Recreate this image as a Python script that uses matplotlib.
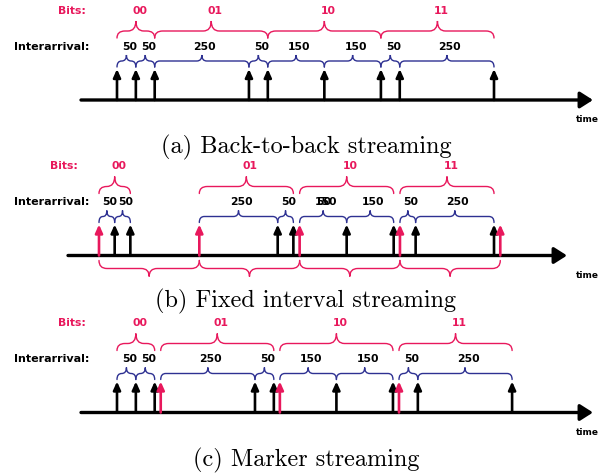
import matplotlib.pyplot as plt
from matplotlib.path import Path
from matplotlib.patches import PathPatch

RED = "#e8185c"
BLUE = "#2e3192"
W, H = 602, 477

symbols = ["00", "01", "10", "11"]
gap_labels = ["50", "50", "250", "50", "150", "150", "50", "250"]

# (a) back-to-back streaming, packet times (ms)
a_times = [0, 50, 100, 350, 400, 550, 700, 750, 1000]
# (b) fixed interval streaming, a marker every 320 ms
b_markers = [0, 320, 640, 960, 1280]
b_times = [50, 100, 570, 620, 790, 940, 1010, 1260]
# (c) marker streaming, marker packet after each symbol
c_times = [0, 50, 100, 366, 416, 582, 732, 798, 1048]
c_markers = [116, 432, 748]

captions = ["(a) Back-to-back streaming", "(b) Fixed interval streaming", "(c) Marker streaming"]

fig = plt.figure(figsize=(6.02, 4.77), dpi=100)
bg = fig.add_axes([0, 0, 1, 1])
bg.set_xlim(0, W)
bg.set_ylim(H, 0)
bg.axis("off")


def panel_ax(x0, s):
    ax = fig.add_axes([0, 0, 1, 1])
    ax.set_xlim(-x0 / s, (W - x0) / s)
    ax.set_ylim(H, 0)
    ax.axis("off")
    ax.patch.set_alpha(0)
    return ax


def brace(ax, x1, x2, y, tip, drop, r, color, lw=1.0):
    xm = (x1 + x2) / 2
    r = min(r, (x2 - x1) / 4)
    verts = [(x1, y + drop), (x1, y), (x1 + r, y), (xm - r, y), (xm, y), (xm, y - tip),
             (xm, y), (xm + r, y), (x2 - r, y), (x2, y), (x2, y + drop)]
    codes = [Path.MOVETO, Path.CURVE3, Path.CURVE3, Path.LINETO, Path.CURVE3, Path.CURVE3,
             Path.CURVE3, Path.CURVE3, Path.LINETO, Path.CURVE3, Path.CURVE3]
    ax.add_patch(PathPatch(Path(verts, codes), fill=False, ec=color, lw=lw, capstyle="round"))


def packet(ax, t, y0, y1, color):
    ax.annotate("", xy=(t, y1), xytext=(t, y0),
                arrowprops=dict(arrowstyle="-|>,head_length=0.4,head_width=0.18", lw=1.9,
                                color=color, shrinkA=0, shrinkB=0, mutation_scale=12))


def timeline(ax, s, x0, off, start_px, end_px):
    ax.annotate("", xy=((end_px - x0) / s, off + 101), xytext=((start_px - x0) / s, off + 101),
                arrowprops=dict(arrowstyle="-|>,head_length=0.55,head_width=0.35", lw=2.4,
                                color="black", shrinkA=0, shrinkB=0, mutation_scale=14))
    bg.text(576, off + 120, "time", fontsize=6.5, fontweight="bold", ha="left", va="center")


def draw_panel(ax, s, off, seqs, blacks, reds, bits_x, caption, cap_y):
    for t in blacks:
        packet(ax, t, off + 101, off + 70, "black")
    for t in reds:
        packet(ax, t, off + 101, off + 70, RED)
    k = 0
    for i, seq in enumerate(seqs):
        brace(ax, seq[0], seq[2], off + 32, 10, 7, 8 / s, RED)
        ax.text((seq[0] + seq[2]) / 2 + 4 / s, off + 11, symbols[i], color=RED, fontsize=7.8,
                fontweight="bold", ha="center", va="center")
        for a, b in zip(seq[:-1], seq[1:]):
            brace(ax, a, b, off + 62, 6, 6, 5 / s, BLUE)
            ax.text((a + b) / 2 + 3 / s, off + 47, gap_labels[k], fontsize=7.8, fontweight="bold",
                    ha="center", va="center")
            k += 1
    bg.text(bits_x, off + 11, "Bits:", color=RED, fontsize=7.8, fontweight="bold",
            ha="right", va="center")
    bg.text(89, off + 47, "Interarrival:", fontsize=8, fontweight="bold", ha="right", va="center")
    bg.text(306, cap_y, caption, family="cmr10", fontsize=17.5, ha="center", va="center")


# (a)
sa, xa = 0.377, 117
ax_a = panel_ax(xa, sa)
seq_a = [a_times[2 * i:2 * i + 3] for i in range(4)]
timeline(ax_a, sa, xa, 0, 81, 593)
draw_panel(ax_a, sa, 0, seq_a, a_times, [], 86, captions[0], 147)

# (b)
sb, xb, ob = 0.3135, 99, 155.5
ax_b = panel_ax(xb, sb)
seq_b = [[b_markers[i], b_times[2 * i], b_times[2 * i + 1]] for i in range(4)]
timeline(ax_b, sb, xb, ob, 68, 567)
draw_panel(ax_b, sb, ob, seq_b, b_times, b_markers, 78, captions[1], 301)
for a, b in zip(b_markers[:-1], b_markers[1:]):
    brace(ax_b, a, b, ob + 114, -8, -8, 8 / sb, RED)
# stray overprinted label in the original
ax_b.text((b_markers[2] + b_times[4]) / 2 + 1 / sb, ob + 47, "50", fontsize=7.8,
          fontweight="bold", ha="center", va="center")

# (c)
sc, xc, oc = 0.377, 117, 312.5
ax_c = panel_ax(xc, sc)
starts = [c_times[0]] + c_markers
seq_c = [[starts[i], c_times[2 * i + 1], c_times[2 * i + 2]] for i in range(4)]
timeline(ax_c, sc, xc, oc, 81, 593)
draw_panel(ax_c, sc, oc, seq_c, c_times, c_markers, 86, captions[2], 460)

fig.savefig("out.png", dpi=100)
